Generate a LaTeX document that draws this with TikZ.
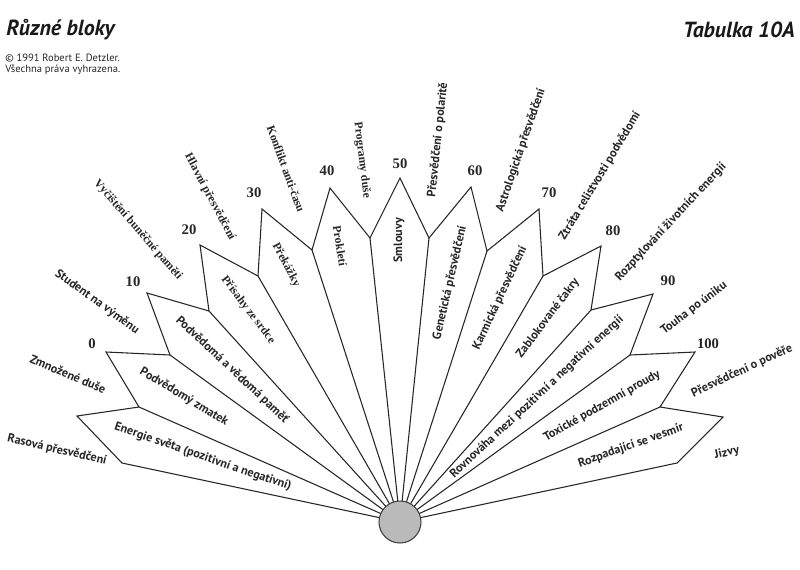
\documentclass[tikz,border=0pt]{standalone}
\usepackage{fontspec}
\setmainfont{Liberation Serif}[Kerning=Off]
\setsansfont{PT Sans}
\begin{document}
\begin{tikzpicture}[x=0.75pt,y=-0.75pt,
  fanline/.style={draw=black!85,line width=0.8pt,line join=miter},
  sanslab/.style={font=\sffamily\bfseries\fontsize{9.1}{10}\selectfont,inner sep=0pt,anchor=center,text=black!85},
  seriflab/.style={font=\rmfamily\bfseries\fontsize{8.8}{10}\selectfont,inner sep=0pt,anchor=center,text=black!85},
  numlab/.style={font=\rmfamily\bfseries\fontsize{11}{12}\selectfont,inner sep=0pt,anchor=center,text=black!85},
  headlab/.style={font=\sffamily\bfseries\itshape\fontsize{16.4}{18}\selectfont,inner sep=0pt,text=black!90},
  copylab/.style={font=\sffamily\fontsize{7.9}{9}\selectfont,anchor=west,inner sep=0pt,text=black!85},
  hublob/.style={circle,draw=black!75,line width=0.8pt,fill=black!27,minimum size=31.5pt,inner sep=0pt}]
\useasboundingbox (0,0) rectangle (800,569);
% outline points
\coordinate (c) at (400,522);
\coordinate (e0) at (122,463);
\coordinate (p0) at (77,416);
\coordinate (v1) at (139,407);
\coordinate (p1) at (106,352);
\coordinate (v2) at (170,355);
\coordinate (p2) at (147,293);
\coordinate (v3) at (209,311);
\coordinate (p3) at (200,245);
\coordinate (v4) at (258,276);
\coordinate (p4) at (262,209);
\coordinate (v5) at (312,250);
\coordinate (p5) at (330,188);
\coordinate (v6) at (370,238);
\coordinate (p6) at (400,178);
\coordinate (v7) at (429,238);
\coordinate (p7) at (471,187);
\coordinate (v8) at (487,251);
\coordinate (p8) at (539,209);
\coordinate (v9) at (543,276);
\coordinate (p9) at (601,246);
\coordinate (v10) at (591,310);
\coordinate (p10) at (653,294);
\coordinate (v11) at (630,355);
\coordinate (p11) at (695,352);
\coordinate (v12) at (660,407);
\coordinate (p12) at (723,417);
\coordinate (e1) at (677,463);
\draw[fanline,fill=white] (c) -- (e0) -- (p0) -- (v1) -- (p1) -- (v2) -- (p2) -- (v3) -- (p3) -- (v4) -- (p4) -- (v5) -- (p5) -- (v6) -- (p6) -- (v7) -- (p7) -- (v8) -- (p8) -- (v9) -- (p9) -- (v10) -- (p10) -- (v11) -- (p11) -- (v12) -- (p12) -- (e1) -- cycle;
\foreach \v in {v1,v2,v3,v4,v5,v6,v7,v8,v9,v10,v11,v12}{\draw[fanline] (c) -- (\v);}
\node[hublob] (hub) at (c) {};
% header
\node[headlab,anchor=west] (title) at (6,30) {Různé bloky};
\node[headlab,anchor=east] (tab) at (795,30) {Tabulka 10A};
\node[copylab] (copy1) at (5,58) {© 1991 Robert E. Detzler.};
\node[copylab] (copy2) at (5,70) {Všechna práva vyhrazena.};
% numbers
\node[numlab] (n0) at (92,344) {0};
\node[numlab] (n10) at (133,282) {10};
\node[numlab] (n20) at (189,230) {20};
\node[numlab] (n30) at (254,193) {30};
\node[numlab] (n40) at (327,171) {40};
\node[numlab] (n50) at (400,164) {50};
\node[numlab] (n60) at (475,171) {60};
\node[numlab] (n70) at (549,193) {70};
\node[numlab] (n80) at (613,231) {80};
\node[numlab] (n90) at (668,281) {90};
\node[numlab] (n100) at (708,344) {100};
% outer labels
\node[sanslab,rotate=-13] (o1) at (57,450) {Rasová přesvědčení};
\node[sanslab,rotate=-23] (o2) at (68,374) {Zmnožené duše};
\node[sanslab,rotate=-36] (o3) at (97,302) {Student na výměnu};
\node[seriflab,rotate=-49] (o4) at (138,230) {Vyčištění buněčné paměti};
\node[seriflab,rotate=-62] (o5) at (210,197) {Hlavní přesvědčení};
\node[seriflab,rotate=-70] (o6) at (286,169) {Konflikt anti-času};
\node[seriflab,rotate=-83] (o7) at (362,160) {Programy duše};
\node[sanslab,rotate=84] (o8) at (438,140) {Přesvědčení o polaritě};
\node[sanslab,rotate=71] (o9) at (521,150) {Astrologická přesvědčení};
\node[sanslab,rotate=59] (o10) at (600,176) {Ztráta celistvosti podvědomí};
\node[sanslab,rotate=47] (o11) at (671,222) {Rozptylování životních energií};
\node[sanslab,rotate=37] (o12) at (694,308) {Touha po úniku};
\node[sanslab,rotate=25] (o13) at (742,371) {Přesvědčení o pověře};
\node[sanslab,rotate=12] (o14) at (727,453) {Jizvy};
% inner labels
\node[sanslab,rotate=-19] (i1) at (203,457) {Energie světa (pozitivní a negativní)};
\node[sanslab,rotate=-31] (i2) at (184,397) {Podvědomý zmatek};
\node[sanslab,rotate=-43] (i3) at (232,370) {Podvědomá a vědomá paměť};
\node[seriflab,rotate=-53] (i4) at (248,310) {Přísahy ze srdce};
\node[seriflab,rotate=-62] (i5) at (286,265) {Překážky};
\node[seriflab,rotate=-81] (i6) at (340,246) {Prokletí};
\node[sanslab,rotate=90] (i7) at (399,240) {Smlouvy};
\node[sanslab,rotate=77] (i8) at (450,283) {Genetická přesvědčení};
\node[sanslab,rotate=65] (i9) at (500,298) {Karmická přesvědčení};
\node[sanslab,rotate=53] (i10) at (548,318) {Zablokované čakry};
\node[sanslab,rotate=43] (i11) at (537,397) {Rovnováha mezi pozitivní a negativní energií};
\node[sanslab,rotate=29.5] (i12) at (602,406) {Toxické podzemní proudy};
\node[sanslab,rotate=19.5] (i13) at (631,446) {Rozpadající se vesmír};
\end{tikzpicture}
\end{document}
